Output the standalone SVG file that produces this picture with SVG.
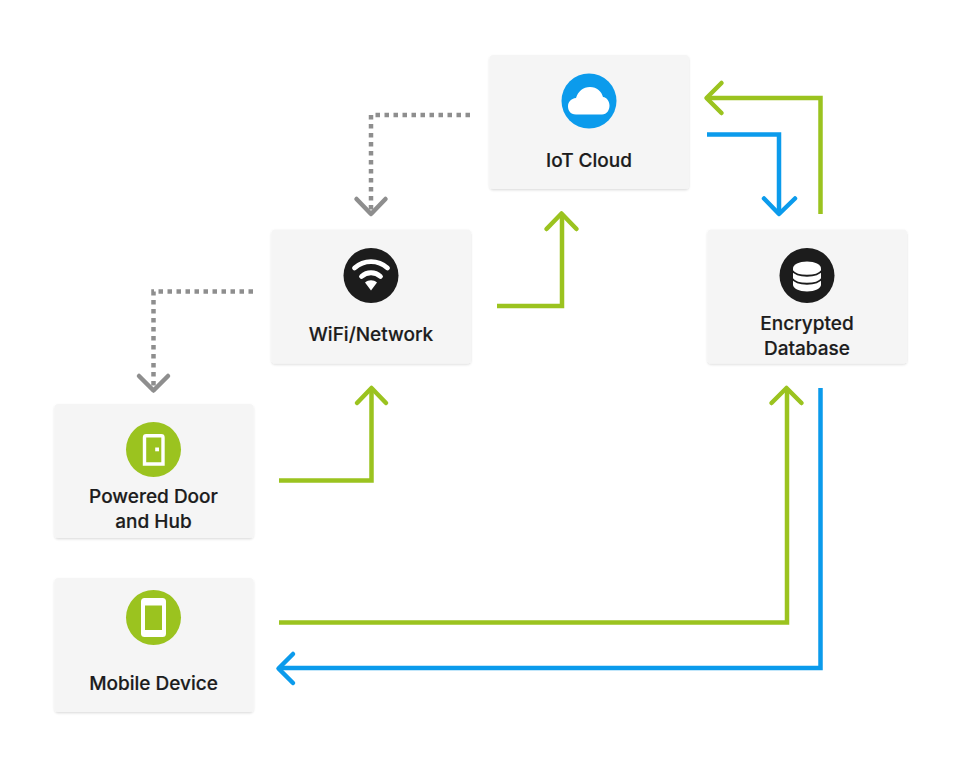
<svg xmlns="http://www.w3.org/2000/svg" width="960" height="768" viewBox="0 0 960 768">
<style>
.card{fill:#f5f5f5;stroke:none;filter:url(#sh)}
.t{font-family:Inter,"Liberation Sans",sans-serif;font-size:19px;font-weight:500;fill:#1c1c1c;text-anchor:middle;stroke:#1c1c1c;stroke-width:.2}
.c{fill:none;stroke-width:4.5;stroke-linejoin:miter}
.h{fill:none;stroke-width:4.5;stroke-linecap:round;stroke-linejoin:round}
.g{stroke:#9bc31f}.b{stroke:#0b9bec}.d{stroke:#8e8e8e}
.dot{stroke-dasharray:4.5 4.5}
</style>
<defs>
<filter id="sh" x="-5%" y="-5%" width="110%" height="115%"><feDropShadow dx="0" dy="1.200" stdDeviation="0.800" flood-color="#000" flood-opacity="0.14"/></filter>
</defs>
<rect width="960" height="768" fill="#fff"/>
<g id="connectors">
<path class="c d dot" d="M470 115H371V213"/><path class="h d" d="M356.500 199L371 214L385.500 199"/>
<path class="c d dot" d="M253 291.500H153.500V388"/><path class="h d" d="M139 376L153.500 390.500L168 376"/>
<path class="c g" d="M497 306H562V214"/><path class="h g" d="M546.500 229L561.500 213.500L576.500 229"/>
<path class="c g" d="M279 480.500H371.500V389"/><path class="h g" d="M357 403L371.500 388L386 403"/>
<path class="c g" d="M279 622.500H787V389"/><path class="h g" d="M771.500 403L786.500 388L801.500 403"/>
<path class="c b" d="M820.500 388V668H279"/><path class="h b" d="M293 654L278.500 668.500L293 683"/>
<path class="c g" d="M820.500 214V98H707"/><path class="h g" d="M721.500 83L706.500 98L721.500 113"/>
<path class="c b" d="M707 134.500H779V214"/><path class="h b" d="M764 198.500L779 214L795 198.500"/>
</g>
<g id="iot-cloud">
<rect class="card" x="489.500" y="55" width="199.500" height="134" rx="4"/>
<circle cx="589" cy="101" r="27.500" fill="#0b9bec"/>
<path d="M576 114.500C570 114.500 568 110 568 106.500C568 102 571 98.500 576 98C578 91.500 583 87 590 87C597 87 601.500 91.500 603 97C607 97.500 609.500 101.500 609.500 105.500C609.500 110 607 114.500 602 114.500Z" fill="#fff"/>
<text class="t" x="589" y="166.500">IoT Cloud</text>
</g>
<g id="wifi-network">
<rect class="card" x="271.500" y="229.500" width="199.500" height="134" rx="4"/>
<circle cx="371" cy="275.500" r="27.500" fill="#1c1c1c"/>
<path d="M354.500 268C364 259.500 378 259.500 387.500 268M361.500 276.500C367 271.500 375 271.500 380.500 276.500" fill="none" stroke="#fff" stroke-width="4.800" stroke-linecap="round"/>
<path d="M365 282.500C368.500 279.500 373.500 279.500 377 282.500L371 290.500Z" fill="#fff"/>
<text class="t" x="371" y="340.500">WiFi/Network</text>
</g>
<g id="encrypted-database">
<rect class="card" x="707.500" y="229.500" width="199.500" height="134" rx="4"/>
<circle cx="807" cy="275.500" r="27.500" fill="#1c1c1c"/>
<path d="M793 268.500C793 264.500 799 261.500 807 261.500C815 261.500 821 264.500 821 268.500V284.500C821 288.500 815 291.500 807 291.500C799 291.500 793 288.500 793 284.500Z" fill="#fff"/>
<path d="M792 270.500C797 277.500 817 277.500 822 270.500M792 278.500C797 285.500 817 285.500 822 278.500" fill="none" stroke="#1c1c1c" stroke-width="1.800"/>
<text class="t" x="807" y="329.500">Encrypted</text>
<text class="t" x="807" y="354.500">Database</text>
</g>
<g id="powered-door-hub">
<rect class="card" x="54.500" y="404" width="199" height="134" rx="4"/>
<circle cx="153.500" cy="449.500" r="27.500" fill="#9bc31f"/>
<path d="M144.500 464V437.500Q144.500 435.800 146.200 435.800H161.300Q163 435.800 163 437.500V464Z" fill="none" stroke="#fff" stroke-width="3.400"/>
<rect x="155.200" y="447.500" width="3.800" height="3.800" fill="#fff"/>
<text class="t" x="153.500" y="502.500">Powered Door</text>
<text class="t" x="153.500" y="527.500">and Hub</text>
</g>
<g id="mobile-device">
<rect class="card" x="54.500" y="578" width="199" height="134" rx="4"/>
<circle cx="153.500" cy="617.500" r="27.500" fill="#9bc31f"/>
<rect x="141" y="598" width="25" height="39" rx="3.500" fill="#fff"/>
<rect x="145" y="605.500" width="17" height="24.500" fill="#9bc31f"/>
<text class="t" x="153.500" y="689.500">Mobile Device</text>
</g>
</svg>
